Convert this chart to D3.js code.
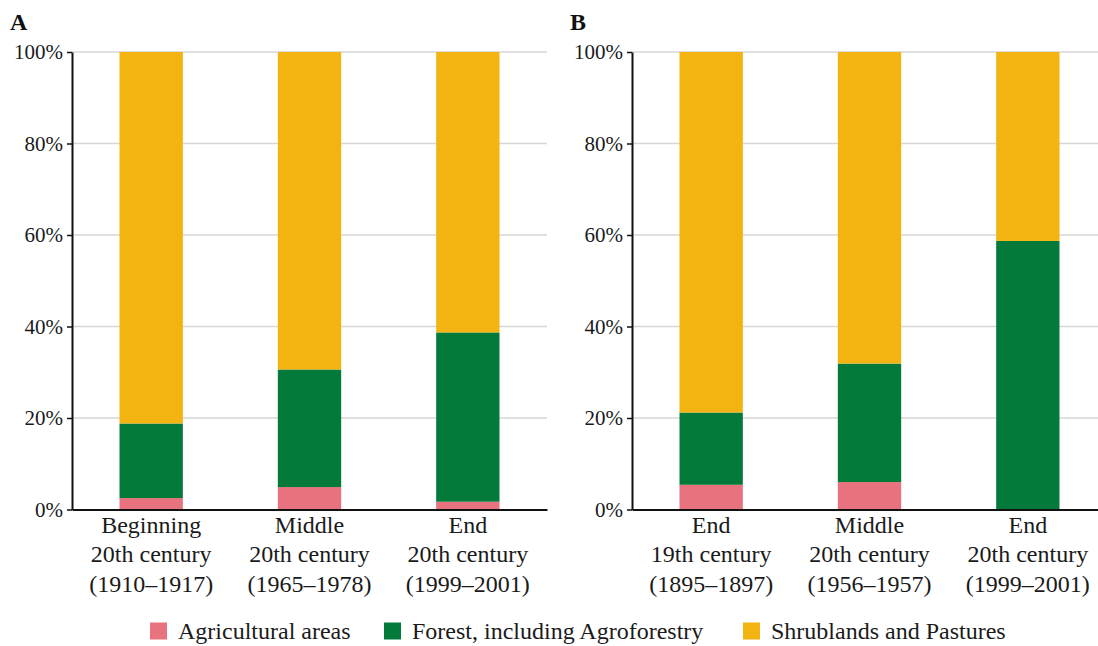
<!DOCTYPE html>
<html><head><meta charset="utf-8">
<script src="https://cdn.jsdelivr.net/npm/d3@7"></script>
<style>
svg text { font-family: "Liberation Serif", serif !important; }
</style>
</head><body style="margin:0">
<svg id="c" width="1098" height="646"></svg>
<script>
const seriesKeys = ["Agricultural areas", "Forest, including Agroforestry", "Shrublands and Pastures"];
const seriesColors = ["#E8727E", "#047A3A", "#F3B412"];

const catsA = [["Beginning","20th century","(1910–1917)"],["Middle","20th century","(1965–1978)"],["End","20th century","(1999–2001)"]];
const agriA  = [2.5, 4.9, 1.7];
const forestA = [16.3, 25.7, 37.0];
const shrubA = [81.2, 69.4, 61.3];

const catsB = [["End","19th century","(1895–1897)"],["Middle","20th century","(1956–1957)"],["End","20th century","(1999–2001)"]];
const agriB  = [5.4, 6.0, 0];
const forestB = [15.8, 25.9, 58.7];
const shrubB = [78.8, 68.1, 41.3];

const yTicks = [0, 20, 40, 60, 80, 100];
const panelLabels = ["A", "B"];
const legendX = [150, 384, 743];

const svg = d3.select("#c");
const FONT = "Liberation Serif";
const FSTYLE = "font-family: 'Liberation Serif', serif !important";
const y = d3.scaleLinear().domain([0, 100]).range([509.5, 52]);
const panelW = 475;

function panel(x0, letter, cats, agri, forest, shrub) {
  const g = svg.append("g");
  const names = cats.map(c => c.join(" "));
  const x = d3.scaleBand().domain(names).range([x0, x0 + panelW]).paddingInner(0.6).paddingOuter(0.3);
  const rows = names.map((n, i) => ({name: n, [seriesKeys[0]]: agri[i], [seriesKeys[1]]: forest[i], [seriesKeys[2]]: shrub[i]}));
  const stack = d3.stack().keys(seriesKeys)(rows);

  g.append("g").selectAll("line").data(yTicks.filter(t => t > 0)).join("line")
    .attr("x1", x0).attr("x2", x0 + panelW)
    .attr("y1", d => y(d)).attr("y2", d => y(d))
    .attr("stroke", "#d6d6d6").attr("stroke-width", 1.5);

  g.append("g").selectAll("g").data(stack).join("g")
    .attr("fill", (d, i) => seriesColors[i])
    .selectAll("rect").data(d => d).join("rect")
    .attr("x", d => x(d.data.name))
    .attr("width", x.bandwidth())
    .attr("y", d => y(d[1]))
    .attr("height", d => Math.max(0, y(d[0]) - y(d[1])));

  const ya = g.append("g").attr("transform", `translate(${x0},0)`)
    .call(d3.axisLeft(y).tickValues(yTicks).tickFormat(d => d + "%").tickSize(5).tickSizeOuter(0).tickPadding(4));
  ya.attr("font-family", FONT).attr("font-size", 21);
  ya.select(".domain").attr("stroke", "#111").attr("stroke-width", 2);
  ya.selectAll(".tick line").attr("stroke", "#111").attr("stroke-width", 1.5);
  ya.selectAll(".tick text").attr("fill", "#1a1a1a").attr("font-family", FONT).attr("font-size", 21).attr("style", FSTYLE);

  const xa = g.append("g").attr("transform", `translate(0,${y(0)})`)
    .call(d3.axisBottom(x).tickSize(0).tickSizeOuter(0).tickFormat(""));
  xa.select(".domain").attr("stroke", "#111").attr("stroke-width", 2);

  cats.forEach((c, i) => {
    const cx = x(names[i]) + x.bandwidth() / 2;
    c.forEach((line, j) => {
      g.append("text").attr("x", cx).attr("y", 533 + j * 29.3)
        .attr("font-family", FONT).attr("font-size", 24).attr("fill", "#1a1a1a").attr("style", FSTYLE)
        .attr("text-anchor", "middle").text(line);
    });
  });

  g.append("text").attr("x", x0 - 62).attr("y", 30)
    .attr("font-family", FONT).attr("font-size", 24).attr("font-weight", "bold").attr("fill", "#111").attr("style", FSTYLE)
    .text(letter);
}

panel(72, panelLabels[0], catsA, agriA, forestA, shrubA);
panel(632, panelLabels[1], catsB, agriB, forestB, shrubB);

seriesKeys.forEach((k, i) => {
  svg.append("rect").attr("x", legendX[i]).attr("y", 622.5).attr("width", 17).attr("height", 17)
    .attr("fill", seriesColors[i]);
  svg.append("text").attr("x", legendX[i] + 28).attr("y", 639)
    .attr("font-family", FONT).attr("font-size", 24).attr("fill", "#1a1a1a").attr("style", FSTYLE).text(k);
});
</script>
</body></html>
